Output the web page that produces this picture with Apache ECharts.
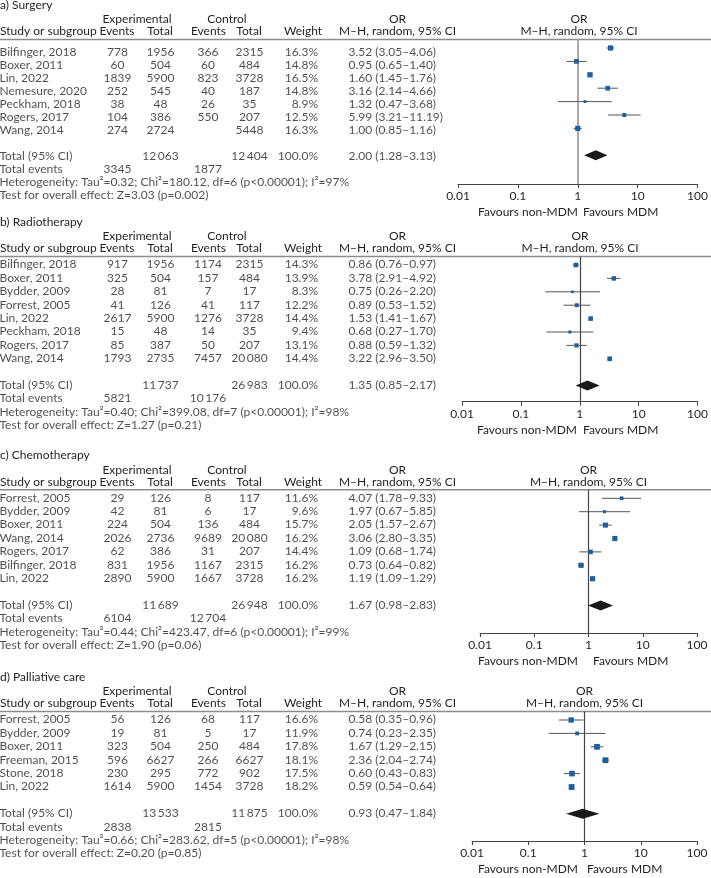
<!DOCTYPE html>
<html><head><meta charset="utf-8">
<script src="https://cdn.jsdelivr.net/npm/echarts@6/dist/echarts.min.js"></script>
<style>html,body{margin:0;padding:0;background:#fff}#c{width:711px;height:878px}</style>
</head><body><div id="c"></div><script>
// ---------- a) Surgery ----------
const aTitle = 'a) Surgery';
const aStudies = ['Bilfinger, 2018','Boxer, 2011','Lin, 2022','Nemesure, 2020','Peckham, 2018','Rogers, 2017','Wang, 2014'];
const aExpEvents = [778, 60, 1839, 252, 38, 104, 274];
const aExpTotal = [1956, 504, 5900, 545, 48, 386, 2724];
const aCtlEvents = [366, 60, 823, 40, 26, 550, null];
const aCtlTotal = [2315, 484, 3728, 187, 35, 207, 5448];
const aWeight = [16.3, 14.8, 16.5, 14.8, 8.9, 12.5, 16.3];
const aOR = [3.52, 0.95, 1.60, 3.16, 1.32, 5.99, 1.00];
const aLo = [3.05, 0.65, 1.45, 2.14, 0.47, 3.21, 0.85];
const aHi = [4.06, 1.40, 1.76, 4.66, 3.68, 11.19, 1.16];
const aTotals = [12063, 12404];
const aTotalEvents = [3345, 1877];
const aPooled = [2.00, 1.28, 3.13];
const aHet = 'Tau²=0.32; Chi²=180.12, df=6 (p<0.00001); I²=97%';
const aTest = 'Z=3.03 (p=0.002)';

// ---------- b) Radiotherapy ----------
const bTitle = 'b) Radiotherapy';
const bStudies = ['Bilfinger, 2018','Boxer, 2011','Bydder, 2009','Forrest, 2005','Lin, 2022','Peckham, 2018','Rogers, 2017','Wang, 2014'];
const bExpEvents = [917, 325, 28, 41, 2617, 15, 85, 1793];
const bExpTotal = [1956, 504, 81, 126, 5900, 48, 387, 2735];
const bCtlEvents = [1174, 157, 7, 41, 1276, 14, 50, 7457];
const bCtlTotal = [2315, 484, 17, 117, 3728, 35, 207, 20080];
const bWeight = [14.3, 13.9, 8.3, 12.2, 14.4, 9.4, 13.1, 14.4];
const bOR = [0.86, 3.78, 0.75, 0.89, 1.53, 0.68, 0.88, 3.22];
const bLo = [0.76, 2.91, 0.26, 0.53, 1.41, 0.27, 0.59, 2.96];
const bHi = [0.97, 4.92, 2.20, 1.52, 1.67, 1.70, 1.32, 3.50];
const bTotals = [11737, 26983];
const bTotalEvents = [5821, 10176];
const bPooled = [1.35, 0.85, 2.17];
const bHet = 'Tau²=0.40; Chi²=399.08, df=7 (p<0.00001); I²=98%';
const bTest = 'Z=1.27 (p=0.21)';

// ---------- c) Chemotherapy ----------
const cTitle = 'c) Chemotherapy';
const cStudies = ['Forrest, 2005','Bydder, 2009','Boxer, 2011','Wang, 2014','Rogers, 2017','Bilfinger, 2018','Lin, 2022'];
const cExpEvents = [29, 42, 224, 2026, 62, 831, 2890];
const cExpTotal = [126, 81, 504, 2736, 386, 1956, 5900];
const cCtlEvents = [8, 6, 136, 9689, 31, 1167, 1667];
const cCtlTotal = [117, 17, 484, 20080, 207, 2315, 3728];
const cWeight = [11.6, 9.6, 15.7, 16.2, 14.4, 16.2, 16.2];
const cOR = [4.07, 1.97, 2.05, 3.06, 1.09, 0.73, 1.19];
const cLo = [1.78, 0.67, 1.57, 2.80, 0.68, 0.64, 1.09];
const cHi = [9.33, 5.85, 2.67, 3.35, 1.74, 0.82, 1.29];
const cTotals = [11689, 26948];
const cTotalEvents = [6104, 12704];
const cPooled = [1.67, 0.98, 2.83];
const cHet = 'Tau²=0.44; Chi²=423.47, df=6 (p<0.00001); I²=99%';
const cTest = 'Z=1.90 (p=0.06)';

// ---------- d) Palliative care ----------
const dTitle = 'd) Palliative care';
const dStudies = ['Forrest, 2005','Bydder, 2009','Boxer, 2011','Freeman, 2015','Stone, 2018','Lin, 2022'];
const dExpEvents = [56, 19, 323, 596, 230, 1614];
const dExpTotal = [126, 81, 504, 6627, 295, 5900];
const dCtlEvents = [68, 5, 250, 266, 772, 1454];
const dCtlTotal = [117, 17, 484, 6627, 902, 3728];
const dWeight = [16.6, 11.9, 17.8, 18.1, 17.5, 18.2];
const dOR = [0.58, 0.74, 1.67, 2.36, 0.60, 0.59];
const dLo = [0.35, 0.23, 1.29, 2.04, 0.43, 0.54];
const dHi = [0.96, 2.35, 2.15, 2.74, 0.83, 0.64];
const dTotals = [13533, 11875];
const dTotalEvents = [2838, 2815];
const dPooled = [0.93, 0.47, 1.84];
const dHet = 'Tau²=0.66; Chi²=283.62, df=5 (p<0.00001); I²=98%';
const dTest = 'Z=0.20 (p=0.85)';

const axisTicks = [0.01, 0.1, 1, 10, 100];
const favoursLeft = 'Favours non-MDM';
const favoursRight = 'Favours MDM';

const panels = [
  {title:aTitle, studies:aStudies, ee:aExpEvents, et:aExpTotal, ce:aCtlEvents, ct:aCtlTotal, w:aWeight, or:aOR, lo:aLo, hi:aHi, tot:aTotals, tev:aTotalEvents, pooled:aPooled, het:aHet, test:aTest},
  {title:bTitle, studies:bStudies, ee:bExpEvents, et:bExpTotal, ce:bCtlEvents, ct:bCtlTotal, w:bWeight, or:bOR, lo:bLo, hi:bHi, tot:bTotals, tev:bTotalEvents, pooled:bPooled, het:bHet, test:bTest},
  {title:cTitle, studies:cStudies, ee:cExpEvents, et:cExpTotal, ce:cCtlEvents, ct:cCtlTotal, w:cWeight, or:cOR, lo:cLo, hi:cHi, tot:cTotals, tev:cTotalEvents, pooled:cPooled, het:cHet, test:cTest},
  {title:dTitle, studies:dStudies, ee:dExpEvents, et:dExpTotal, ce:dCtlEvents, ct:dCtlTotal, w:dWeight, or:dOR, lo:dLo, hi:dHi, tot:dTotals, tev:dTotalEvents, pooled:dPooled, het:dHet, test:dTest}
];

// ---------- layout (pixels) ----------
const W = 711;
const ROW = 13.4;
const FONT = 'Lato';
const FS = 12;
const TXT = '#231f20';
const layout = [
  {row0:48,    axisY:184,   x0:458, x100:700, vColor:'#a8a8a8', vWidth:2,   nonR:578, mdmL:583},
  {row0:265,   axisY:401.7, x0:462, x100:698, vColor:'#444',    vWidth:1.2, nonR:577, mdmL:583},
  {row0:498.3, axisY:633,   x0:480, x100:697, vColor:'#444',    vWidth:1.2, nonR:578, mdmL:593},
  {row0:720,   axisY:841,   x0:472, x100:697, vColor:'#444',    vWidth:1.2, nonR:578, mdmL:587}
];
const COL = {expEv:118, expTot:161, ctlEv:208.5, ctlTot:250, weightR:318.5, orL:349, orC:397.5};

function fmt(n){
  if (n === null || n === undefined) return '';
  const s = String(n);
  return n >= 10000 ? s.slice(0, s.length-3) + '\u2009' + s.slice(-3) : s;
}
function ci(o,l,h){ return o.toFixed(2)+' ('+l.toFixed(2)+'–'+h.toFixed(2)+')'; }

const grids = [], xAxes = [], yAxes = [], series = [], graphics = [];
function gtext(text, x, y, align){
  graphics.push({type:'text', silent:true, style:{text:text, x:x, y:y, textAlign:align, textVerticalAlign:'middle', fontFamily:FONT, fontSize:FS, fill:TXT}});
}

panels.forEach((p, i) => {
  const L = layout[i];
  const n = p.studies.length;
  const x1 = L.x0 + (L.x100 - L.x0) / 2;
  const lineY = L.row0 - 8.5;

  // table grid (row index scale)
  const gT = grids.length;
  grids.push({left:0, width:W, top:L.row0 - 4*ROW, height:(n+9)*ROW});
  xAxes.push({gridIndex:gT, type:'value', min:0, max:W, show:false});
  yAxes.push({gridIndex:gT, type:'value', min:-4, max:n+5, inverse:true, show:false});
  // plot grid
  const gP = grids.length;
  grids.push({left:L.x0, width:L.x100 - L.x0, top:lineY, height:L.axisY - lineY});
  xAxes.push({gridIndex:gP, type:'log', logBase:10, min:0.01, max:100, position:'bottom',
    axisLine:{onZero:false, lineStyle:{color:'#444', width:1}},
    axisTick:{show:true, length:4, lineStyle:{color:'#444'}},
    splitLine:{show:false}, minorTick:{show:false},
    axisLabel:{margin:6, fontFamily:FONT, fontSize:FS, color:TXT,
      formatter: v => { const t = axisTicks.find(a => Math.abs(Math.log10(a) - Math.log10(v)) < 1e-6); return t === undefined ? '' : String(t); }}
  });
  yAxes.push({gridIndex:gP, type:'value', inverse:true, show:false,
    min:(lineY - L.row0)/ROW, max:(L.axisY - L.row0)/ROW});

  // table cells
  const left = [], center = [], right = [];
  p.studies.forEach((s, k) => {
    left.push({value:[0, k], txt:s});
    center.push({value:[COL.expEv, k], txt:fmt(p.ee[k])});
    center.push({value:[COL.expTot, k], txt:fmt(p.et[k])});
    center.push({value:[COL.ctlEv, k], txt:fmt(p.ce[k])});
    center.push({value:[COL.ctlTot, k], txt:fmt(p.ct[k])});
    right.push({value:[COL.weightR, k], txt:p.w[k].toFixed(1)+'%'});
    left.push({value:[COL.orL, k], txt:ci(p.or[k], p.lo[k], p.hi[k])});
  });
  left.push({value:[0, n+1], txt:'Total (95% CI)'});
  center.push({value:[COL.expTot, n+1], txt:fmt(p.tot[0])});
  center.push({value:[COL.ctlTot, n+1], txt:fmt(p.tot[1])});
  right.push({value:[COL.weightR, n+1], txt:'100.0%'});
  left.push({value:[COL.orL, n+1], txt:ci(p.pooled[0], p.pooled[1], p.pooled[2])});
  left.push({value:[0, n+2], txt:'Total events'});
  center.push({value:[COL.expEv, n+2], txt:fmt(p.tev[0])});
  center.push({value:[COL.ctlEv, n+2], txt:fmt(p.tev[1])});
  left.push({value:[0, n+3], txt:'Heterogeneity: ' + p.het});
  left.push({value:[0, n+4], txt:'Test for overall effect: ' + p.test});
  [['left', left], ['center', center], ['right', right]].forEach(([al, dat]) => {
    series.push({type:'scatter', xAxisIndex:gT, yAxisIndex:gT, data:dat, symbolSize:1, clip:false, silent:true,
      itemStyle:{color:'rgba(0,0,0,0)'},
      label:{show:true, position:[0,0], align:al, verticalAlign:'middle', fontFamily:FONT, fontSize:FS, color:TXT,
        formatter: q => q.data.txt}});
  });

  // study markers
  const sData = p.or.map((o, k) => [o, p.lo[k], p.hi[k], k, p.w[k]]);
  series.push({type:'custom', xAxisIndex:gP, yAxisIndex:gP, data:sData, clip:false, silent:true, z:3,
    encode:{x:[0,1,2], y:3},
    renderItem:(params, api) => {
      const r = api.value(3);
      const c = api.coord([api.value(0), r]);
      const a = api.coord([api.value(1), r]);
      const b = api.coord([api.value(2), r]);
      const s = api.value(4) * 0.32;
      return {type:'group', children:[
        {type:'line', shape:{x1:a[0], y1:a[1], x2:b[0], y2:b[1]}, style:{stroke:'#555', lineWidth:1}},
        {type:'rect', shape:{x:c[0]-s/2, y:c[1]-s/2, width:s, height:s}, style:{fill:'#1e5f9f'}}
      ]};
    }
  });
  // pooled diamond + line of no effect
  series.push({type:'custom', xAxisIndex:gP, yAxisIndex:gP, data:[[p.pooled[0], p.pooled[1], p.pooled[2], n+1]], clip:false, silent:true, z:3,
    encode:{x:[0,1,2], y:3},
    renderItem:(params, api) => {
      const r = api.value(3);
      const c = api.coord([api.value(0), r]);
      const a = api.coord([api.value(1), r]);
      const b = api.coord([api.value(2), r]);
      return {type:'polygon', shape:{points:[[a[0], a[1]], [c[0], c[1]-5], [b[0], b[1]], [c[0], c[1]+5]]}, style:{fill:'#1a1a1a'}};
    },
    markLine:{silent:true, symbol:'none', label:{show:false}, animation:false, z:1,
      lineStyle:{color:L.vColor, width:L.vWidth, type:'solid'}, data:[{xAxis:1}]}
  });

  // headers, rules, footers
  gtext(p.title, 0, L.row0 - 43, 'left');
  gtext('Experimental', 137, L.row0 - 28.5, 'center');
  gtext('Control', 227, L.row0 - 28.5, 'center');
  gtext('OR', COL.orC, L.row0 - 28.5, 'center');
  gtext('OR', x1, L.row0 - 28.5, 'center');
  gtext('Study or subgroup', 0, L.row0 - 16.5, 'left');
  gtext('Events', COL.expEv - 1, L.row0 - 16.5, 'center');
  gtext('Total', COL.expTot - 1, L.row0 - 16.5, 'center');
  gtext('Events', COL.ctlEv, L.row0 - 16.5, 'center');
  gtext('Total', COL.ctlTot - 1, L.row0 - 16.5, 'center');
  gtext('Weight', 303, L.row0 - 16.5, 'center');
  gtext('M–H, random, 95% CI', COL.orC, L.row0 - 16.5, 'center');
  gtext('M–H, random, 95% CI', x1, L.row0 - 16.5, 'center');
  graphics.push({type:'line', silent:true, shape:{x1:0, y1:lineY, x2:W, y2:lineY}, style:{stroke:'#8c8c8c', lineWidth:1.5}});
  gtext(favoursLeft, L.nonR, L.axisY + 28.5, 'right');
  gtext(favoursRight, L.mdmL, L.axisY + 28.5, 'left');
});

const chart = echarts.init(document.getElementById('c'), null, {renderer:'canvas'});
chart.setOption({
  animation:false,
  backgroundColor:'#fff',
  grid:grids, xAxis:xAxes, yAxis:yAxes, series:series, graphic:graphics
});
</script></body></html>
